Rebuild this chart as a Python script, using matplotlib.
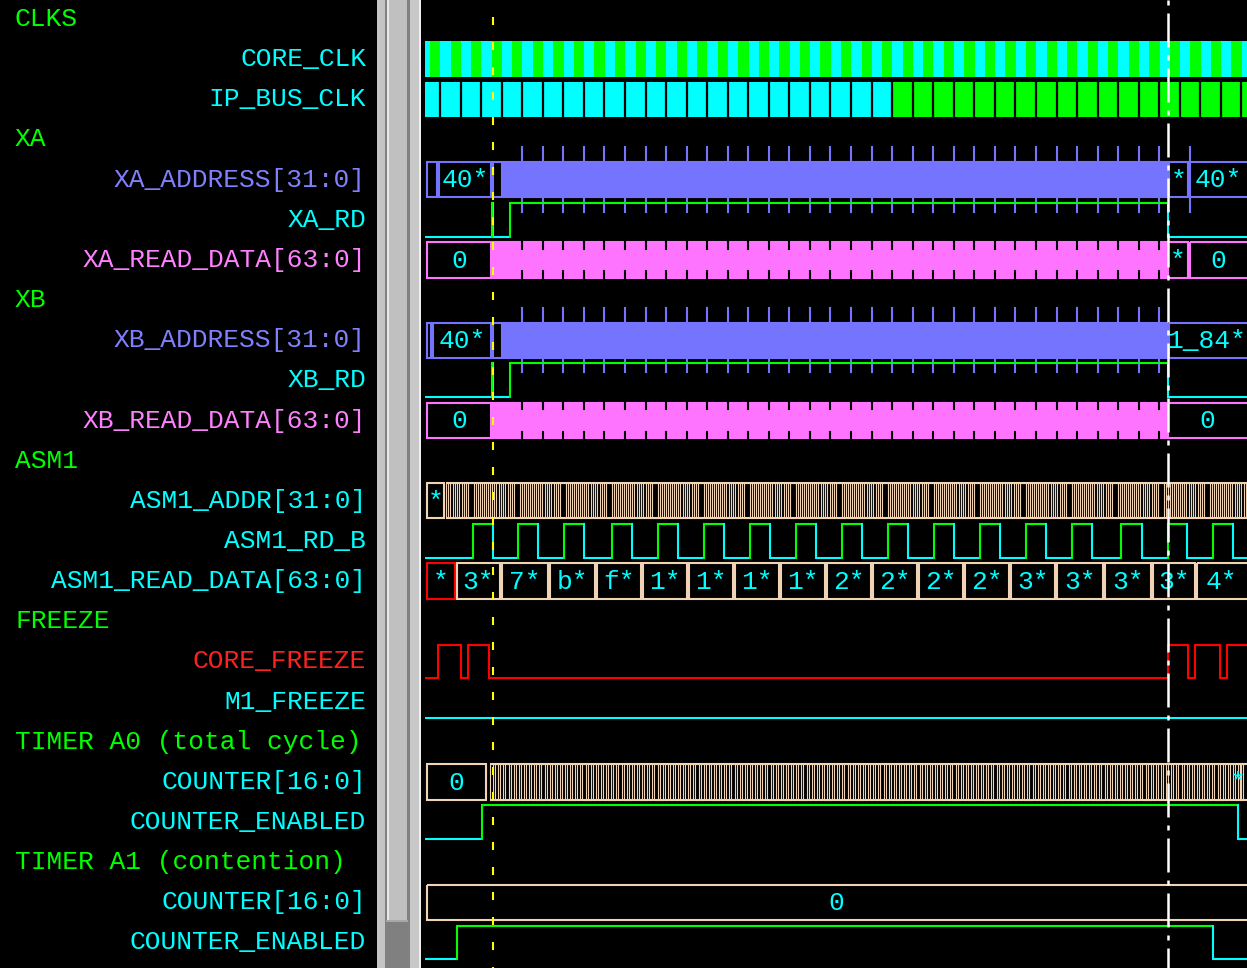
import numpy as np
import matplotlib.pyplot as plt
from matplotlib.patches import Rectangle

plt.rcParams['lines.scale_dashes'] = False
plt.rcParams['font.family'] = ['Liberation Mono', 'DejaVu Sans Mono']

# ---- signal list (top to bottom) ----
row_names = ["CLKS", "CORE_CLK", "IP_BUS_CLK",
             "XA", "XA_ADDRESS[31:0]", "XA_RD", "XA_READ_DATA[63:0]",
             "XB", "XB_ADDRESS[31:0]", "XB_RD", "XB_READ_DATA[63:0]",
             "ASM1", "ASM1_ADDR[31:0]", "ASM1_RD_B", "ASM1_READ_DATA[63:0]",
             "FREEZE", "CORE_FREEZE", "M1_FREEZE",
             "TIMER A0 (total cycle)", "COUNTER[16:0]", "COUNTER_ENABLED",
             "TIMER A1 (contention)", "COUNTER[16:0]", "COUNTER_ENABLED"]
group_rows = [0, 3, 7, 11, 15, 18, 21]

GREEN = '#00ff00'
CYAN = '#00ffff'
PURPLE = '#7474ff'
MAGENTA = '#ff74ff'
BEIGE = '#f0d2b4'
RED = '#ff0000'
YELLOW = '#ffff00'

name_colors = [GREEN, CYAN, CYAN,
               GREEN, '#8080ff', CYAN, '#ff80ff',
               GREEN, '#8080ff', CYAN, '#ff80ff',
               GREEN, CYAN, CYAN, CYAN,
               GREEN, '#ff2020', CYAN,
               GREEN, CYAN, CYAN,
               GREEN, CYAN, CYAN]

# ---- time data (ns) ----
T_END = 822
CLK_PERIOD = 20.55
core_clk_first_high = 5
ip_bus_first_edge = 15
ip_bus_green_from = 466
cursor_a = 68
cursor_b = 743

xa_addr_edges = [1, 13, 67, 78, 743, 764, 830]
xa_addr_values = ["", "40*", "", "#", "*", "40*"]
xa_rd_edges = [67, 67.5, 85, 742.5]
xa_data_edges = [1, 67, 74, 742, 764, 830]
xa_data_values = ["0", "#", "#", "*", "0"]

xb_addr_edges = [1, 7, 67, 78, 743, 830]
xb_addr_values = ["", "40*", "", "#", "1_84*"]
xb_rd_edges = [67, 67.5, 85, 742.5]
xb_data_edges = [1, 67, 74, 742, 830]
xb_data_values = ["0", "#", "#", "0"]

asm1_addr_first = [1, 20]
asm1_addr_cells = [4, 5, 4, 5, 4, 8, 4, 4, 4, 4]
asm1_rd_rises = [48, 93, 139, 187, 233, 279, 325, 371, 417, 463, 509, 555, 601, 647, 696, 743, 788]
asm1_rd_falls = [68, 113, 159, 207, 253, 299, 345, 391, 437, 483, 529, 575, 621, 667, 717, 762, 808]
asm1_data_edges = [1, 31, 76, 124, 171, 217, 263, 309, 355, 401, 447, 493, 539, 585,
                   631, 679, 727, 771, 830]
asm1_data_values = ["*", "3*", "7*", "b*", "f*", "1*", "1*", "1*", "1*", "2*", "2*",
                    "2*", "2*", "3*", "3*", "3*", "3*", "4*"]

core_freeze_edges = [13, 36, 43, 64, 743, 763, 770, 795, 802]

a0_counter_first = [1, 62]
a0_counter_dense = [64, 815]
a0_enabled_edges = [57, 813]
a1_counter_edges = [1, 830]
a1_counter_values = ["0"]
a1_enabled_edges = [32, 788]

# ---- layout ----
W, Hpx = 1247, 968
ROW0, ROWSTEP = 19, 40.15
YTOP = -ROW0 / ROWSTEP
YBOT = (Hpx - ROW0) / ROWSTEP
LW = 1.5
LVL = 0.42
BUS = 0.44
FS = 18.9
CHAR_PX = 15.75

fig = plt.figure(figsize=(W / 100, Hpx / 100), dpi=100, facecolor='black')

# names panel
ax_l = fig.add_axes([0, 0, 377 / W, 1])
ax_l.set_xlim(0, 377)
ax_l.set_ylim(YBOT, YTOP)
ax_l.axis('off')
for r, (nm, c) in enumerate(zip(row_names, name_colors)):
    if r in group_rows:
        ax_l.text(15, r, nm, color=c, fontsize=FS, ha='left', va='center')
    else:
        ax_l.text(366, r, nm, color=c, fontsize=FS, ha='right', va='center')

# splitter / scrollbar
ax_s = fig.add_axes([377 / W, 0, 44 / W, 1])
ax_s.set_xlim(377, 421)
ax_s.set_ylim(Hpx, 0)
ax_s.axis('off')
for x0, x1, c in [(377, 385, '#c4c4c4'), (385, 387, '#808080'), (387, 389, '#e8e8e8'),
                  (389, 407, '#c0c0c0'), (407, 410, '#808080'), (410, 419, '#c8c8c8'),
                  (419, 421, '#f0f0f0')]:
    ax_s.add_patch(Rectangle((x0, 0), x1 - x0, Hpx, color=c, lw=0))
ax_s.add_patch(Rectangle((386, 920), 22, 48, color='#808080', lw=0))
ax_s.add_patch(Rectangle((386, 920), 22, 2, color='#a8a8a8', lw=0))

# waveform panel
ax = fig.add_axes([421 / W, 0, 826 / W, 1])
ax.set_xlim(-4, T_END)
ax.set_ylim(YBOT, YTOP)
ax.axis('off')


def level_wave(row, edges, hi, lo):
    times = [0] + list(edges) + [T_END + 10]
    for i in range(len(times) - 1):
        high = i % 2 == 1
        y = row - LVL if high else row + LVL
        ax.plot([times[i], times[i + 1]], [y, y], color=hi if high else lo, lw=LW,
                solid_capstyle='butt')
    for i, t in enumerate(edges):
        rising = i % 2 == 0
        ax.plot([t, t], [row - LVL, row + LVL], color=hi if rising else lo, lw=LW,
                zorder=3 if rising else 2)


def bus(row, edges, values, color, first_color=None, ticks=None, notches=None):
    for i, (a, b) in enumerate(zip(edges[:-1], edges[1:])):
        v = values[i]
        c = first_color if (i == 0 and first_color) else color
        filled = v == "#"
        ax.add_patch(Rectangle((a + 1, row - BUS), b - a - 2, 2 * BUS,
                               facecolor=c if filled else 'none', edgecolor=c, lw=LW))
        if v and not filled:
            x = (a + min(b, T_END)) / 2
            x = min(x, T_END - len(v) * CHAR_PX / 2 - 1)
            ax.text(x, row + 0.02, v, color=CYAN, fontsize=FS,
                    ha='center', va='center', clip_on=True)
    if ticks is not None:
        for t in ticks:
            ax.plot([t, t], [row - BUS - 0.36, row - BUS], color=color, lw=LW)
            ax.plot([t, t], [row + BUS, row + BUS + 0.36], color=color, lw=LW)
    if notches is not None:
        for t in notches:
            ax.plot([t, t], [row - BUS, row - BUS + 0.16], color='black', lw=LW)
            ax.plot([t, t], [row + BUS - 0.16, row + BUS], color='black', lw=LW)


def dense(row, start, end, cells, color):
    edges = [start]
    k = 0
    while edges[-1] < end:
        edges.append(edges[-1] + cells[k % len(cells)])
        k += 1
    for a, b in zip(edges[:-1], edges[1:]):
        ax.add_patch(Rectangle((a + 1.0, row - BUS), b - a - 2.0, 2 * BUS,
                               facecolor='none', edgecolor=color, lw=0.8))
    for y in (row - BUS, row + BUS):
        ax.plot([start + 1, min(edges[-1], T_END + 5) - 1], [y, y], color=color, lw=LW,
                solid_capstyle='butt')


# clocks
ip_edges = np.arange(ip_bus_first_edge, T_END, CLK_PERIOD)
core_high = np.arange(core_clk_first_high, T_END, CLK_PERIOD)
ax.add_patch(Rectangle((0, 1 - 0.45), T_END + 10, 0.9, color=CYAN, lw=0))
for t in core_high:
    ax.add_patch(Rectangle((t, 1 - 0.45), CLK_PERIOD / 2, 0.9, color=GREEN, lw=0))
ax.add_patch(Rectangle((0, 2 - 0.44), ip_bus_green_from, 0.88, color=CYAN, lw=0))
ax.add_patch(Rectangle((ip_bus_green_from, 2 - 0.44), T_END + 10 - ip_bus_green_from, 0.88,
                       color=GREEN, lw=0))
for t in ip_edges:
    ax.plot([t, t], [2 - 0.44, 2 + 0.44], color='black', lw=1.6)

# XA / XB
bus_ticks = [t for t in ip_edges if 90 < t < 742]
bus(4, xa_addr_edges, xa_addr_values, PURPLE, ticks=bus_ticks + [765])
level_wave(5, xa_rd_edges, GREEN, CYAN)
bus(6, xa_data_edges, xa_data_values, MAGENTA, notches=bus_ticks)
bus(8, xb_addr_edges, xb_addr_values, PURPLE, ticks=bus_ticks)
level_wave(9, xb_rd_edges, GREEN, CYAN)
bus(10, xb_data_edges, xb_data_values, MAGENTA, notches=bus_ticks)

# ASM1
bus(12, asm1_addr_first, ["*"], BEIGE)
dense(12, asm1_addr_first[1], T_END + 5, asm1_addr_cells, BEIGE)
level_wave(13, sorted(asm1_rd_rises + asm1_rd_falls), GREEN, CYAN)
bus(14, asm1_data_edges, asm1_data_values, BEIGE, first_color=RED)

# FREEZE
level_wave(16, core_freeze_edges, RED, RED)
level_wave(17, [], CYAN, CYAN)

# timers
bus(19, a0_counter_first, ["0"], BEIGE)
dense(19, a0_counter_dense[0], a0_counter_dense[1], [CLK_PERIOD / 4], BEIGE)
bus(19, [a0_counter_dense[1], T_END + 10], ["*"], BEIGE)
level_wave(20, a0_enabled_edges, GREEN, CYAN)
bus(22, a1_counter_edges, a1_counter_values, BEIGE)
level_wave(23, a1_enabled_edges, GREEN, CYAN)

# cursors (dash lengths given in px, converted to points)
px = 0.72
ax.plot([cursor_a, cursor_a], [YTOP, YBOT], color=YELLOW, lw=1.5, zorder=10,
        linestyle=(8 * px, (8 * px, 17 * px)))
ax.plot([cursor_b, cursor_b], [YTOP, YBOT], color='white', lw=1.8, zorder=10,
        linestyle=(42 * px, (34 * px, 8 * px, 5 * px, 8 * px)))

fig.savefig('out.png', dpi=100, facecolor='black')
